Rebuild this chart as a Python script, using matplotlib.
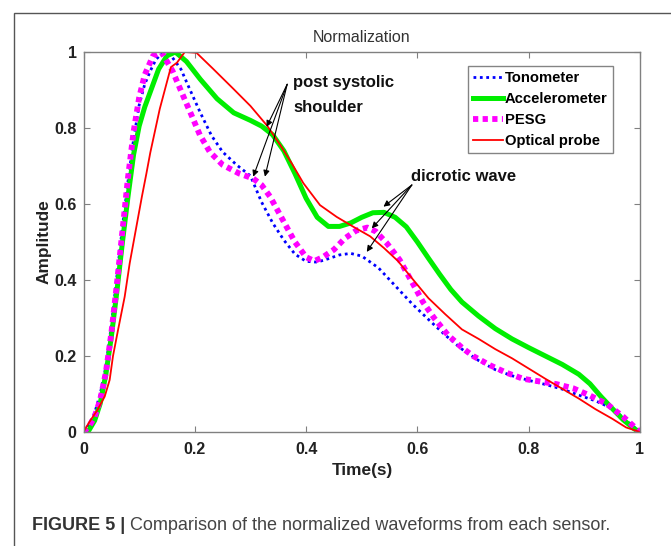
import matplotlib
matplotlib.use("Agg")
import matplotlib.pyplot as plt
from matplotlib.patches import Rectangle

# ---------------- data ----------------
t_tono = [0, 0.01, 0.02, 0.03, 0.04, 0.05, 0.06, 0.07, 0.08, 0.09, 0.10, 0.11, 0.12, 0.13, 0.14,
          0.15, 0.16, 0.175, 0.19, 0.21, 0.23, 0.25, 0.275, 0.30, 0.32, 0.34, 0.36, 0.38, 0.40,
          0.42, 0.44, 0.46, 0.48, 0.50, 0.53, 0.56, 0.59, 0.62, 0.65, 0.68, 0.71, 0.74, 0.77,
          0.80, 0.83, 0.86, 0.89, 0.92, 0.95, 0.98, 1.0]
v_tono = [0, 0.02, 0.05, 0.10, 0.17, 0.28, 0.41, 0.54, 0.66, 0.77, 0.86, 0.915, 0.95, 0.98, 0.995,
          0.995, 0.985, 0.955, 0.905, 0.84, 0.78, 0.737, 0.703, 0.674, 0.605, 0.55, 0.505, 0.468, 0.449,
          0.447, 0.456, 0.466, 0.47, 0.463, 0.432, 0.385, 0.338, 0.296, 0.255, 0.218, 0.188, 0.164, 0.148,
          0.136, 0.125, 0.113, 0.097, 0.082, 0.062, 0.025, 0.0]

t_acc = [0, 0.01, 0.02, 0.03, 0.04, 0.05, 0.06, 0.07, 0.08, 0.09, 0.10, 0.11, 0.12, 0.135, 0.15,
         0.165, 0.185, 0.21, 0.24, 0.27, 0.30, 0.32, 0.34, 0.36, 0.38, 0.40, 0.42, 0.44, 0.46,
         0.48, 0.50, 0.52, 0.54, 0.56, 0.58, 0.60, 0.62, 0.64, 0.66, 0.68, 0.71, 0.74, 0.77,
         0.80, 0.83, 0.86, 0.89, 0.91, 0.93, 0.95, 0.97, 0.99, 1.0]
v_acc = [0, 0.005, 0.03, 0.075, 0.15, 0.25, 0.37, 0.50, 0.62, 0.73, 0.805, 0.855, 0.895, 0.955, 0.99,
         1.0, 0.975, 0.928, 0.877, 0.84, 0.82, 0.805, 0.782, 0.74, 0.68, 0.615, 0.565, 0.541, 0.541,
         0.55, 0.565, 0.577, 0.578, 0.565, 0.54, 0.50, 0.457, 0.415, 0.375, 0.342, 0.305, 0.272, 0.245,
         0.222, 0.20, 0.178, 0.152, 0.127, 0.093, 0.062, 0.032, 0.008, 0.0]

t_pesg = [0, 0.01, 0.02, 0.03, 0.04, 0.05, 0.06, 0.07, 0.08, 0.09, 0.10, 0.11, 0.125, 0.14,
          0.16, 0.176, 0.194, 0.209, 0.227, 0.25, 0.28, 0.305, 0.32, 0.335, 0.35, 0.36, 0.38,
          0.40, 0.415, 0.43, 0.45, 0.47, 0.49, 0.51, 0.525, 0.545, 0.568, 0.592, 0.61, 0.63,
          0.655, 0.68, 0.70, 0.73, 0.76, 0.79, 0.82, 0.85, 0.88, 0.91, 0.94, 0.97, 1.0]
v_pesg = [0, 0.015, 0.04, 0.085, 0.155, 0.26, 0.39, 0.53, 0.67, 0.79, 0.88, 0.94, 0.99, 1.0,
          0.95, 0.895, 0.834, 0.782, 0.737, 0.703, 0.68, 0.667, 0.65, 0.62, 0.58, 0.553, 0.50,
          0.46, 0.45, 0.46, 0.48, 0.51, 0.53, 0.538, 0.528, 0.497, 0.453, 0.39, 0.342, 0.30,
          0.255, 0.222, 0.20, 0.176, 0.156, 0.14, 0.133, 0.126, 0.115, 0.096, 0.074, 0.04, 0.0]

t_opt = [0, 0.01, 0.025, 0.038, 0.047, 0.053, 0.062, 0.074, 0.083, 0.095, 0.105, 0.113, 0.12,
         0.137, 0.157, 0.168, 0.182, 0.203, 0.232, 0.268, 0.30, 0.33, 0.355, 0.375, 0.395, 0.425,
         0.455, 0.485, 0.515, 0.54, 0.565, 0.59, 0.62, 0.65, 0.68, 0.71, 0.74, 0.77, 0.80, 0.83,
         0.86, 0.89, 0.92, 0.95, 0.975, 1.0]
v_opt = [0, 0.025, 0.058, 0.093, 0.137, 0.20, 0.268, 0.356, 0.444, 0.54, 0.62, 0.68, 0.735,
         0.85, 0.96, 0.972, 1.0, 0.998, 0.957, 0.905, 0.858, 0.806, 0.752, 0.705, 0.655, 0.597,
         0.566, 0.54, 0.515, 0.484, 0.45, 0.405, 0.352, 0.31, 0.27, 0.245, 0.218, 0.194, 0.167, 0.14,
         0.114, 0.088, 0.06, 0.035, 0.012, 0.0]

labels = ["Tonometer", "Accelerometer", "PESG", "Optical probe"]
x_ticks = [0, 0.2, 0.4, 0.6, 0.8, 1]
y_ticks = [0, 0.2, 0.4, 0.6, 0.8, 1]
x_ticklabels = ["0", "0.2", "0.4", "0.6", "0.8", "1"]
y_ticklabels = ["0", "0.2", "0.4", "0.6", "0.8", "1"]

# ---------------- figure ----------------
W, H = 671, 546
fig = plt.figure(figsize=(W / 100, H / 100), dpi=100)

FONT = ["Liberation Sans", "DejaVu Sans"]

def fx(px):
    return px / W

def fy(py):
    return 1 - py / H

# outer frame (clipped at right/bottom)
fig.patches.append(Rectangle((fx(14), -0.2), 1.5, fy(13) + 0.2, transform=fig.transFigure,
                             fill=False, edgecolor="#555555", linewidth=1.0))

ax = fig.add_axes([fx(83.5), fy(432), (640 - 83.5) / W, (432 - 52) / H])

ax.plot(t_tono, v_tono, color="#0000ff", lw=2.0, linestyle=(0, (1, 1.3)), label=labels[0],
        dash_capstyle="butt")
ax.plot(t_acc, v_acc, color="#00ee00", lw=3.6, linestyle="-", label=labels[1])
ax.plot(t_pesg, v_pesg, color="#ff00ff", lw=4.2, linestyle=(0, (0.9, 0.75)), label=labels[2],
        dash_capstyle="butt")
ax.plot(t_opt, v_opt, color="#ff0000", lw=1.3, linestyle="-", label=labels[3])

ax.set_xlim(0, 1)
ax.set_ylim(0, 1)
ax.set_xticks(x_ticks)
ax.set_yticks(y_ticks)
ax.set_xticklabels(x_ticklabels, family=FONT, fontweight="bold", fontsize=11.5, color="#222222")
ax.set_yticklabels(y_ticklabels, family=FONT, fontweight="bold", fontsize=11.5, color="#222222")
ax.tick_params(direction="in", length=4, width=0.8, color="#808080",
               top=True, right=True)
ax.tick_params(axis="x", pad=7)
ax.tick_params(axis="y", pad=5)
for s in ax.spines.values():
    s.set_color("#808080")
    s.set_linewidth(1.0)

# title and axis labels
fig.text(fx(361.6), fy(38), "Normalization", ha="center", va="center",
         family=FONT, fontsize=11.5, color="#333333")
fig.text(fx(362), fy(471), "Time(s)", ha="center", va="center",
         family=FONT, fontweight="bold", fontsize=12.4, color="#222222")
fig.text(fx(44.5), fy(242), "Amplitude", ha="center", va="center", rotation=90,
         family=FONT, fontweight="bold", fontsize=12.4, color="#222222")

# legend
leg = ax.legend(loc="upper right", bbox_to_anchor=(0.951, 0.964), borderaxespad=0,
                prop={"family": FONT, "weight": "bold", "size": 10.6},
                frameon=True, fancybox=False, handlelength=2.0, handletextpad=0.15,
                labelspacing=0.48, borderpad=0.35)
leg.get_frame().set_edgecolor("#666666")
leg.get_frame().set_linewidth(1.0)

# annotations
arrow_kw = dict(arrowstyle="-|>", color="black", lw=0.8, mutation_scale=9,
                shrinkA=0, shrinkB=0)
tail_ps = (0.366, 0.915)
for head in [(0.329, 0.803), (0.305, 0.672), (0.326, 0.672)]:
    ax.annotate("", xy=head, xytext=tail_ps, arrowprops=arrow_kw)
ax.text(0.3765, 0.921, "post systolic", ha="left", va="center",
        family=FONT, fontweight="bold", fontsize=12, color="#111111")
ax.text(0.3765, 0.855, "shoulder", ha="left", va="center",
        family=FONT, fontweight="bold", fontsize=12, color="#111111")

tail_dw = (0.59, 0.65)
for head in [(0.539, 0.593), (0.518, 0.536), (0.509, 0.474)]:
    ax.annotate("", xy=head, xytext=tail_dw, arrowprops=arrow_kw)
ax.text(0.588, 0.672, "dicrotic wave", ha="left", va="center",
        family=FONT, fontweight="bold", fontsize=12, color="#111111")

# caption
fig.text(fx(32), fy(525), "FIGURE 5 |", ha="left", va="center",
         family=FONT, fontweight="bold", fontsize=13, color="#333333")
fig.text(fx(130), fy(525), "Comparison of the normalized waveforms from each sensor.",
         ha="left", va="center", family=FONT, fontsize=13, color="#444444")

fig.savefig("out.png", dpi=100)
